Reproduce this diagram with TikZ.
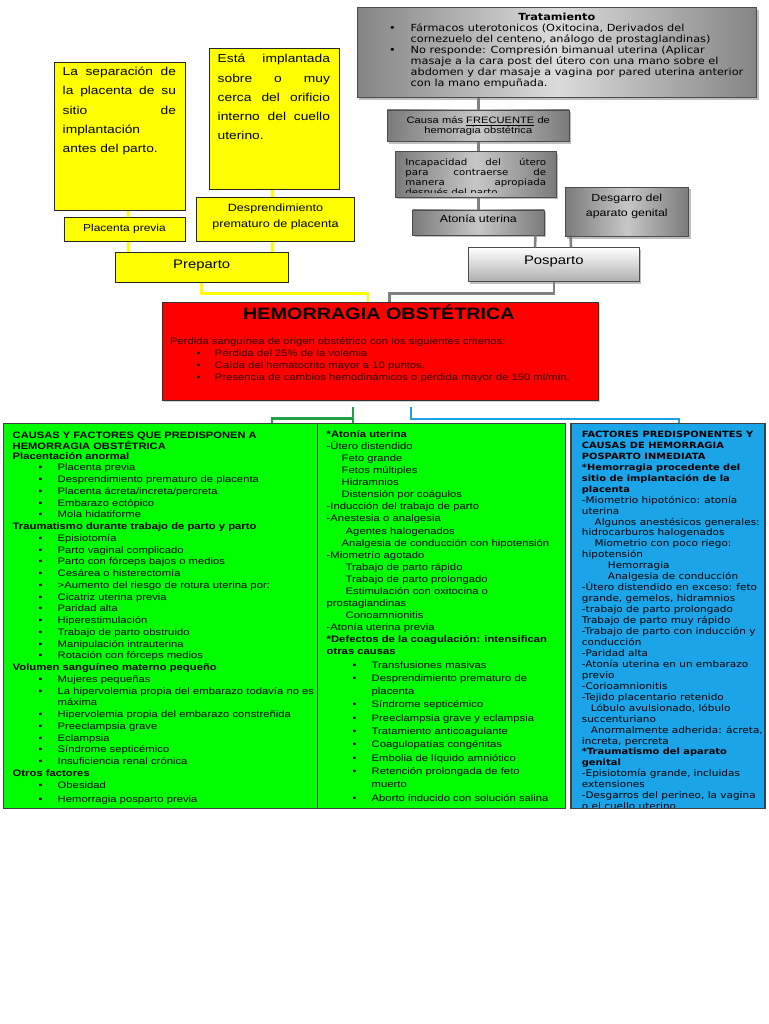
\documentclass[tikz,border=0pt]{standalone}
\usepackage{fontspec}
\setmainfont{Liberation Sans}[FakeStretch=1.2]
\newfontfamily\dvsans{DejaVu Sans}[FakeStretch=1.15]
\usetikzlibrary{shadows}

\definecolor{lima}{RGB}{0,255,0}
\definecolor{celeste}{RGB}{28,164,232}
\definecolor{verdelinea}{RGB}{34,160,70}
\definecolor{azullinea}{RGB}{30,160,230}
\definecolor{rojo}{RGB}{255,0,0}
\definecolor{amarillo}{RGB}{255,255,0}
\definecolor{lineagris}{RGB}{128,128,128}
\definecolor{textorojo}{RGB}{45,0,0}

% vinetas de las columnas
\newcommand{\bul}{\hspace*{26pt}\makebox[19pt][l]{\textbullet}}
\newcommand{\sig}{\hspace*{45pt}}
% caja: ancho, alto, primera linea, fuente, texto
\newcommand{\cajatexto}[5]{\parbox[c][#2][t]{#1}{#4\centering\rule{0pt}{#3}#5}}

\begin{document}
\begin{tikzpicture}[x=1pt,y=-1pt,
  cajagris/.style={draw=black!70, line width=0.8pt, inner sep=0pt,
    left color=black!52, right color=black!52, middle color=black!22,
    drop shadow={opacity=0.5,shadow xshift=2pt,shadow yshift=-2pt}},
  cajaamar/.style={draw=black!85, line width=1pt, fill=amarillo, inner sep=0pt},
  cajacol/.style={draw=black!75, line width=1.2pt, inner sep=0pt},
  lgris/.style={draw=lineagris, line width=2.6pt},
  lamar/.style={draw=amarillo, line width=2.8pt},
  lverde/.style={draw=verdelinea, line width=2.4pt},
  lazul/.style={draw=azullinea, line width=2.4pt}]
\useasboundingbox (0,0) rectangle (768,1024);
\fill[white] (0,0) rectangle (768,1024);

% lado del posparto
\node[cajagris, left color=black!48, right color=black!48, middle color=black!14] (trat) at (556.85,52.7)
  {\parbox[c][90pt][t]{399.7pt}{\dvsans\fontsize{9.8}{11}\selectfont
  \rule{0pt}{13.3pt}\hfill\textbf{Tratamiento}\hfill\null\\
  \hspace*{32pt}\makebox[21.7pt][l]{\textbullet}Fármacos uterotonicos (Oxitocina, Derivados del\\
  \hspace*{53.7pt}cornezuelo del centeno, análogo de prostaglandinas)\\
  \hspace*{32pt}\makebox[21.7pt][l]{\textbullet}No responde: Compresión bimanual uterina (Aplicar\\
  \hspace*{53.7pt}masaje a la cara post del útero con una mano sobre el\\
  \hspace*{53.7pt}abdomen y dar masaje a vagina por pared uterina anterior\\
  \hspace*{53.7pt}con la mano empuñada.}};
\node[cajagris] (causa) at (478.3,125.8)
  {\cajatexto{181.7pt}{31.7pt}{13.3pt}{\fontsize{9.3}{10.7}\selectfont}{Causa más \underline{FRECUENTE} de\\hemorragia obstétrica}};
\node[cajagris, minimum width=161pt, minimum height=45.6pt,
  path picture={\clip ([yshift=4.5pt]path picture bounding box.south west) rectangle (path picture bounding box.north east);
    \node[anchor=north west, inner sep=0pt, draw=none, fill=none] at (path picture bounding box.north west)
    {\parbox[c][45.6pt][t]{161pt}{\dvsans\fontsize{8.9}{10}\selectfont\leftskip=10pt
    \rule{0pt}{13.3pt}\makebox[140.7pt][s]{Incapacidad del útero}\\
    \makebox[140.7pt][s]{para contraerse de}\\
    \makebox[140.7pt][s]{manera apropiada}\\
    después del parto}};}] (incap) at (475.5,174.5) {};
\node[cajagris] (atonia) at (478.3,222.5)
  {\cajatexto{131.6pt}{25pt}{13pt}{\fontsize{10.3}{12}\selectfont}{Atonía uterina}};
\node[cajagris] (desgarro) at (626.8,212)
  {\cajatexto{123.5pt}{49.4pt}{14pt}{\fontsize{10.3}{15}\selectfont}{Desgarro del\\aparato genital}};
\node[cajagris, left color=white, right color=white, middle color=white, top color=white, bottom color=black!32] (posparto) at (553.8,264.7)
  {\cajatexto{171pt}{34pt}{16.3pt}{\fontsize{12.4}{14}\selectfont}{Posparto}};

% lado del preparto
\node[cajaamar] (sepbox) at (119.85,136.5)
  {\parbox[c][148.4pt][t]{130.3pt}{\fontsize{11.5}{19.2}\selectfont\leftskip=8pt
  \rule{0pt}{13.5pt}\makebox[113.3pt][s]{La separación de}\\
  \makebox[113.3pt][s]{la placenta de su}\\
  \makebox[113.3pt][s]{sitio de}\\
  implantación\\
  antes del parto.}};
\node[cajaamar] (implbox) at (274.3,119.15)
  {\parbox[c][140.3pt][t]{130pt}{\fontsize{11.5}{19.2}\selectfont\leftskip=8.4pt
  \rule{0pt}{14pt}\makebox[112.3pt][s]{Está implantada}\\
  \makebox[112.3pt][s]{sobre o muy}\\
  \makebox[112.3pt][s]{cerca del orificio}\\
  \makebox[112.3pt][s]{interno del cuello}\\
  uterino.}};
\node[cajaamar] (previa) at (124.5,229.7)
  {\cajatexto{121pt}{24pt}{13.8pt}{\fontsize{10}{12}\selectfont}{Placenta previa}};
\node[cajaamar] (desprend) at (275.5,219.2)
  {\cajatexto{157.6pt}{43.7pt}{14.5pt}{\fontsize{10.5}{15.7}\selectfont}{Desprendimiento\\prematuro de placenta}};
\node[cajaamar] (preparto) at (201.7,267.2)
  {\cajatexto{173.3pt}{29.7pt}{15.7pt}{\fontsize{12.4}{14}\selectfont}{Preparto}};

% caja central
\node[draw=black!80, line width=1pt, fill=rojo, inner sep=0pt,
  drop shadow={opacity=0.35,shadow xshift=1.5pt,shadow yshift=-1.5pt}] (hemo) at (380.5,351.2)
  {\parbox[c][97.7pt][t]{435.6pt}{\fontsize{9.4}{11.8}\selectfont\color{textorojo}\leftskip=7.3pt
  \hspace*{-10.4pt}\rule{0pt}{16.7pt}\hfill{\fontsize{16.5}{16.5}\selectfont\bfseries\color{black}HEMORRAGIA OBSTÉTRICA}\hfill\null\\[14pt]
  Perdida sanguínea de origen obstétrico con los siguientes criterios:\\
  \hspace*{26.7pt}\makebox[18.3pt][l]{\textbullet}Pérdida del 25\% de la volemia\\
  \hspace*{26.7pt}\makebox[18.3pt][l]{\textbullet}Caída del hematocrito mayor a 10 puntos.\\
  \hspace*{26.7pt}\makebox[18.3pt][l]{\textbullet}Presencia de cambios hemodinámicos o pérdida mayor de 150 ml/min.}};

% columnas
\node[cajacol, fill=lima] (causas) at (160.5,616)
  {\parbox[c][385pt][t]{314pt}{\leftskip=9.2pt\rightskip=-30pt
  {\fontsize{9.3}{9.4}\selectfont\bfseries\rule{0pt}{14.5pt}CAUSAS Y FACTORES QUE PREDISPONEN A\\
  HEMORRAGIA OBSTÉTRICA\par}
  \fontsize{9.4}{10}\selectfont\textbf{Placentación anormal}\par
  \fontsize{9.4}{11.75}\selectfont
  \bul Placenta previa\\
  \bul Desprendimiento prematuro de placenta\\
  \bul Placenta ácreta/increta/percreta\\
  \bul Embarazo ectópico\\
  \bul Mola hidatiforme\\
  \textbf{Traumatismo durante trabajo de parto y parto}\\
  \bul Episiotomía\\
  \bul Parto vaginal complicado\\
  \bul Parto con fórceps bajos o medios\\
  \bul Cesárea o histerectomía\\
  \bul >Aumento del riesgo de rotura uterina por:\\
  \bul Cicatriz uterina previa\\
  \bul Paridad alta\\
  \bul Hiperestimulación\\
  \bul Trabajo de parto obstruido\\
  \bul Manipulación intrauterina\\
  \bul Rotación con fórceps medios\\
  \textbf{Volumen sanguíneo materno pequeño}\\
  \bul Mujeres pequeñas\\
  \bul La hipervolemia propia del embarazo todavía no es\\
  \sig máxima\\
  \bul Hipervolemia propia del embarazo constreñida\\
  \bul Preeclampsia grave\\
  \bul Eclampsia\\
  \bul Síndrome septicémico\\
  \bul Insuficiencia renal crónica\\
  \textbf{Otros factores}\\
  \bul Obesidad\\[3pt]
  \bul Hemorragia posparto previa}};
\node[cajacol, fill=lima] (atoniacol) at (441.5,616)
  {\parbox[c][385pt][t]{248pt}{\leftskip=9.2pt\rightskip=-30pt\fontsize{9.4}{12.07}\selectfont
  \rule{0pt}{14pt}\textbf{*Atonía uterina}\\
  -Útero distendido\\
  \hspace*{15pt}Feto grande\\
  \hspace*{15pt}Fetos múltiples\\
  \hspace*{15pt}Hidramnios\\
  \hspace*{15pt}Distensión por coágulos\\
  -Inducción del trabajo de parto\\
  -Anestesia o analgesia\\
  \hspace*{19pt}Agentes halogenados\\
  \hspace*{15pt}Analgesia de conducción con hipotensión\\
  -Miometrío agotado\\
  \hspace*{19pt}Trabajo de parto rápido\\
  \hspace*{19pt}Trabajo de parto prolongado\\
  \hspace*{19pt}Estimulación con oxitocina o\\
  prostaglandinas\\
  \hspace*{19pt}Corioamnionitis\\
  -Atonía uterina previa\\
  \textbf{*Defectos de la coagulación: intensifican}\\
  \textbf{otras causas}\par
  \fontsize{9.4}{13.3}\selectfont
  \bul Transfusiones masivas\\
  \bul Desprendimiento prematuro de\\
  \sig placenta\\
  \bul Síndrome septicémico\\
  \bul Preeclampsia grave y eclampsia\\
  \bul Tratamiento anticoagulante\\
  \bul Coagulopatías congénitas\\
  \bul Embolia de líquido amniótico\\
  \bul Retención prolongada de feto\\
  \sig muerto\\
  \bul Aborto inducido con solución salina}};
\node[cajacol, fill=celeste, minimum width=194pt, minimum height=385pt,
  path picture={\node[anchor=north west, inner sep=0pt, draw=none, fill=none] at (path picture bounding box.north west)
  {\parbox[c][385pt][t]{194pt}{\dvsans\fontsize{9.1}{10.95}\selectfont\leftskip=10.3pt\rightskip=-30pt
  \rule{0pt}{13.3pt}{\fontsize{8.6}{10}\selectfont\bfseries FACTORES PREDISPONENTES Y}\\
  {\fontsize{8.6}{10}\selectfont\bfseries CAUSAS DE HEMORRAGIA}\\
  {\fontsize{8.6}{10}\selectfont\bfseries POSPARTO INMEDIATA}\\
  {\fontsize{8.6}{10}\selectfont\bfseries *Hemorragia procedente del}\\
  {\fontsize{8.6}{10}\selectfont\bfseries sitio de implantación de la}\\
  {\fontsize{8.6}{10}\selectfont\bfseries placenta}\\
  -Miometrio hipotónico: atonía\\
  uterina\\
  \hspace*{12.7pt}Algunos anestésicos generales:\\
  hidrocarburos halogenados\\
  \hspace*{12.7pt}Miometrio con poco riego:\\
  hipotensión\\
  \hspace*{26pt}Hemorragia\\
  \hspace*{26pt}Analgesia de conducción\\
  -Útero distendido en exceso: feto\\
  grande, gemelos, hidramnios\\
  -trabajo de parto prolongado\\
  Trabajo de parto muy rápido\\
  -Trabajo de parto con inducción y\\
  conducción\\
  -Paridad alta\\
  -Atonía uterina en un embarazo\\
  previo\\
  -Corioamnionitis\\
  -Tejido placentario retenido\\
  \hspace*{9pt}Lóbulo avulsionado, lóbulo\\
  succenturiano\\
  \hspace*{9pt}Anormalmente adherida: ácreta,\\
  increta, percreta\\
  {\fontsize{8.6}{10}\selectfont\bfseries *Traumatismo del aparato}\\
  {\fontsize{8.6}{10}\selectfont\bfseries genital}\\
  -Episiotomía grande, incluidas\\
  extensiones\\
  -Desgarros del perineo, la vagina\\
  o el cuello uterino}};}] (posfact) at (668,616) {};

% conectores grises
\draw[lgris] (causa.north) -- (causa.north |- trat.south);
\draw[lgris] (causa.south) -- ([xshift=2.8pt]incap.north);
\draw[lgris] ([xshift=2.8pt]incap.south) -- (atonia.north);
\draw[lgris] ([xshift=-9.1pt]atonia.south east) -- ([xshift=-18.8pt]posparto.north);
\draw[lgris] ([xshift=6pt]desgarro.south west) -- ([xshift=17.2pt]posparto.north);
\draw[lgris] (posparto.south) -- ++(0,11.3) -| ([xshift=9pt]hemo.north);

% conectores amarillos
\draw[lamar] ([xshift=8.4pt]sepbox.south) -- ([xshift=3.8pt]previa.north);
\draw[lamar] ([xshift=3.8pt]previa.south) -- ([xshift=-73.4pt]preparto.north);
\draw[lamar] ([xshift=-2pt]implbox.south) -- ([xshift=-3.2pt]desprend.north);
\draw[lamar] ([xshift=-3.2pt]desprend.south) -- ([xshift=70.6pt]preparto.north);
\draw[lamar] (preparto.south) -- ++(0,11) -| ([xshift=-12.5pt]hemo.north);

% ramas hacia las columnas
\coordinate (verdeini) at (353,407);
\coordinate (verdecodo) at (353,418.5);
\coordinate (azulini) at (411,407);
\draw[lverde] (verdeini) -- (verdeini |- atoniacol.north);
\draw[lverde] (verdecodo) -| ([xshift=111.5pt]causas.north);
\draw[lazul] (azulini) -- ++(0,12) -| ([xshift=11pt]posfact.north);
\end{tikzpicture}
\end{document}
